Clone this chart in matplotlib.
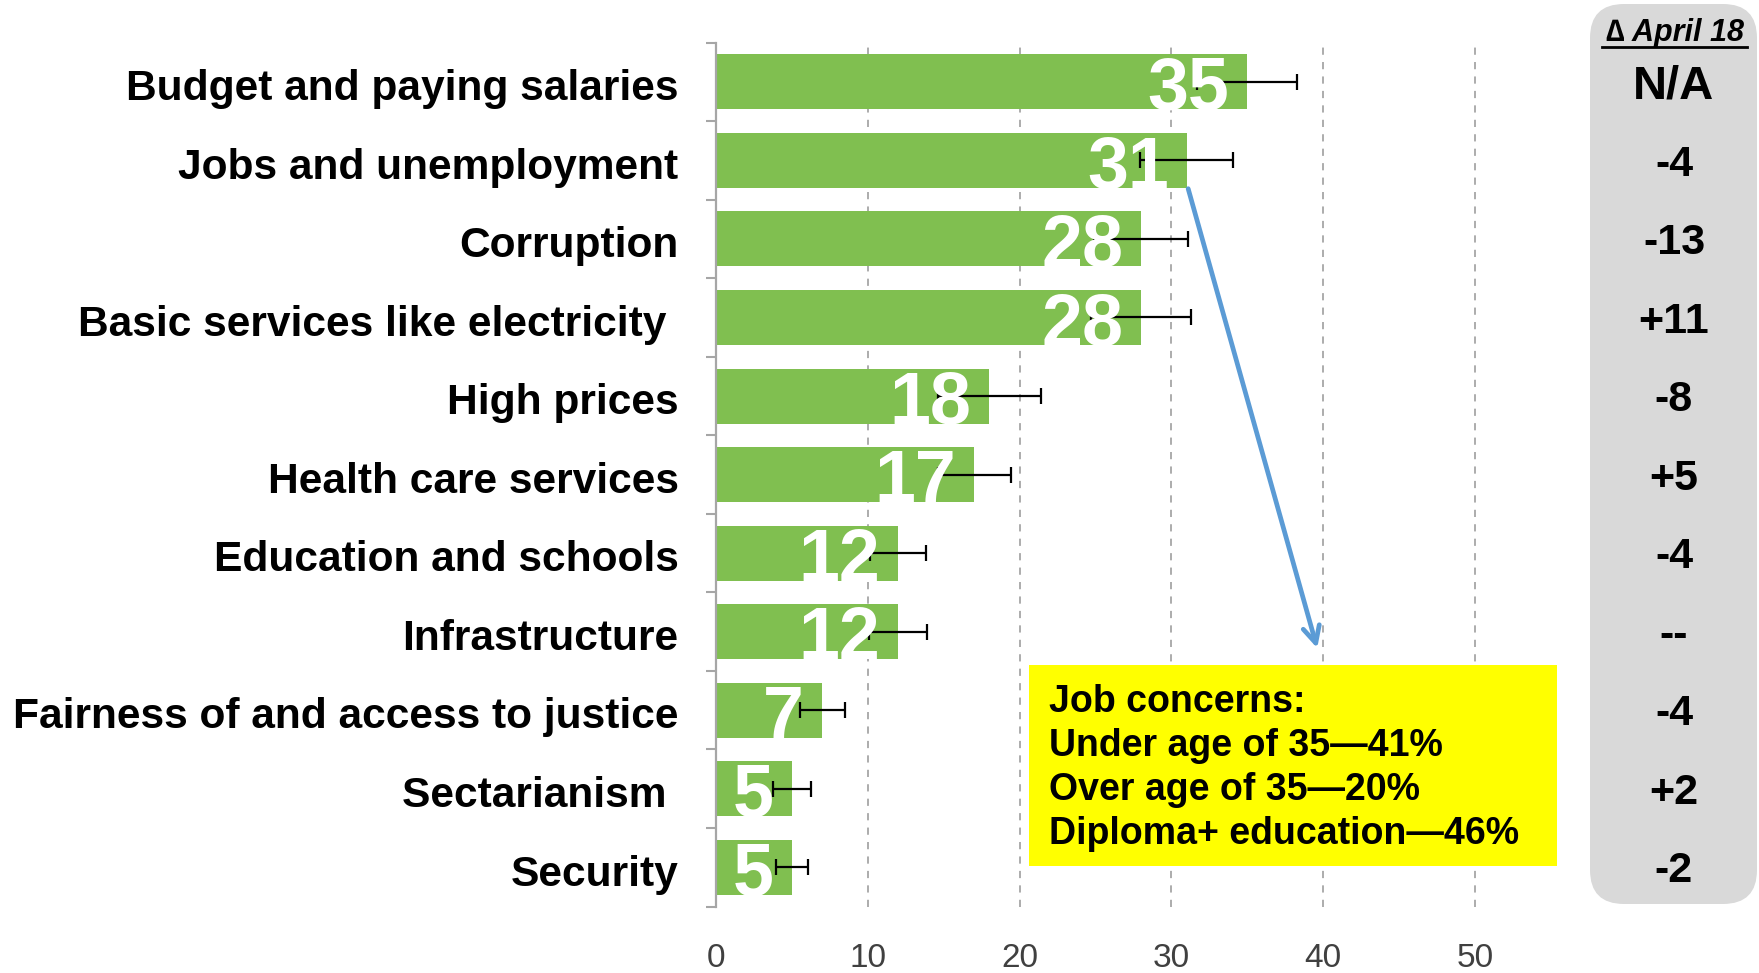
import matplotlib
matplotlib.use("Agg")
import matplotlib.pyplot as plt
import numpy as np
from matplotlib.patches import Rectangle, FancyBboxPatch
from matplotlib.lines import Line2D
from matplotlib.transforms import blended_transform_factory, offset_copy

categories = ["Budget and paying salaries", "Jobs and unemployment", "Corruption",
              "Basic services like electricity ", "High prices", "Health care services",
              "Education and schools", "Infrastructure", "Fairness of and access to justice",
              "Sectarianism ", "Security"]
values = [35, 31, 28, 28, 18, 17, 12, 12, 7, 5, 5]
errors = [3.3, 3.05, 3.1, 3.3, 3.4, 2.4, 1.85, 1.9, 1.5, 1.25, 1.05]
changes = ["N/A", "-4", "-13", "+11", "-8", "+5", "-4", "--", "-4", "+2", "-2"]
change_header = "\u2206 April 18"
xticks = [0, 10, 20, 30, 40, 50]
box_lines = ["Job concerns:", "Under age of 35\u201441%", "Over age of 35\u201420%",
             "Diploma+ education\u201446%"]

W, H = 1759, 973
fig = plt.figure(figsize=(W / 100, H / 100), dpi=100)

# background pixel-coordinate axes
bg = fig.add_axes([0, 0, 1, 1], zorder=0)
bg.set_xlim(0, W)
bg.set_ylim(H, 0)
bg.axis("off")

ax = fig.add_axes([716 / W, 1 - 906.5 / H, 835 / W, (906.5 - 42.6) / H], zorder=1)
ax.patch.set_alpha(0)

green = "#80bf50"
y = np.arange(len(categories))
ax.barh(y, values, height=0.7, color=green, zorder=2)
ax.errorbar(values, y, xerr=errors, fmt="none", ecolor="black", elinewidth=1.6,
            capsize=6, capthick=1.6, zorder=3)

for yi, v in zip(y, values):
    ax.annotate(str(v), xy=(v, yi), xytext=(-13, -20), textcoords="offset points",
                ha="right", va="baseline", color="white", fontsize=53,
                fontweight="bold", family="Liberation Sans", zorder=4)

ax.set_xlim(0, 55)
ax.set_ylim(len(categories) - 0.5, -0.5)
ax.set_xticks(xticks)
ax.set_xticklabels([str(t) for t in xticks])
ax.tick_params(axis="x", length=0, pad=26, labelsize=24, labelcolor="#404040")
for lab in ax.get_xticklabels():
    lab.set_family(["Liberation Sans Narrow", "Liberation Sans"])
ax.set_yticks(y)
ax.set_yticklabels(categories, fontsize=30.6, fontweight="bold", family="Liberation Sans")
ax.tick_params(axis="y", which="major", length=0, pad=27)
for lab in ax.get_yticklabels():
    lab.set_transform(offset_copy(lab.get_transform(), fig=fig, x=0, y=-2, units="points"))
ax.set_yticks(np.arange(-0.5, len(categories), 1), minor=True)
ax.tick_params(axis="y", which="minor", length=7, width=1.5, color="#a6a6a6")
for s in ["top", "right", "bottom"]:
    ax.spines[s].set_visible(False)
ax.spines["left"].set_color("#a6a6a6")
ax.spines["left"].set_linewidth(1.6)
ax.xaxis.grid(True, linestyle=(0, (4, 4)), color="#a6a6a6", linewidth=1.3, zorder=0)
ax.set_axisbelow(True)

# arrow
ax.annotate("", xy=(39.6, 7.21), xytext=(31.1, 1.36),
            arrowprops=dict(arrowstyle="->", color="#5b9bd5", lw=3.4,
                            mutation_scale=30, shrinkA=0, shrinkB=0),
            zorder=6, annotation_clip=False)

# yellow box in pixel coords
px = bg.transData
ax.add_patch(Rectangle((1029, 665), 528, 201, transform=px, facecolor="#ffff00",
                       edgecolor="none", zorder=5, clip_on=False))
for i, line in enumerate(box_lines):
    ax.text(1049, 702 + 44 * i, line, transform=px, ha="left", va="center",
            fontsize=27, fontweight="bold", family="Liberation Sans", color="black",
            zorder=7, clip_on=False)

# right panel
bg.add_patch(FancyBboxPatch((1590, 4), 167, 900,
                            boxstyle="round,pad=0,rounding_size=34",
                            facecolor="#d9d9d9", edgecolor="none"))
bg.text(1675, 33, change_header, ha="center", va="center", fontsize=22,
        fontweight="bold", style="italic", family=["Liberation Sans", "DejaVu Sans"])
bg.add_line(Line2D([1602, 1747], [47, 47], color="black", lw=2))
ptrans = offset_copy(blended_transform_factory(bg.transData, ax.transData),
                     fig=fig, x=0, y=-3, units="points")
for yi, c in zip(y, changes):
    fs = 34 if c == "N/A" else 31
    ax.text(1674, yi, c, transform=ptrans, ha="center", va="center", fontsize=fs,
            fontweight="bold", family="Liberation Sans", clip_on=False, zorder=7)

fig.savefig("out.png", dpi=100)
